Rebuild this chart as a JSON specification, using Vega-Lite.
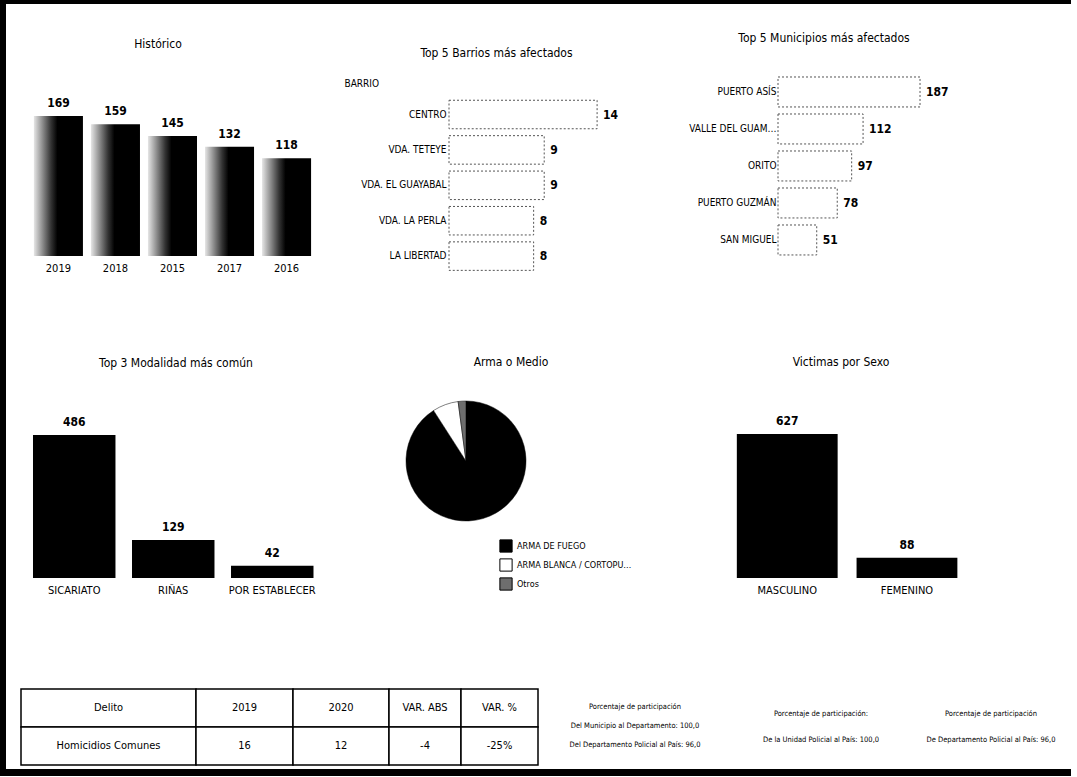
{
  "$schema": "https://vega.github.io/schema/vega-lite/v6.json",
  "padding": {"left": 0, "top": 0, "right": 6, "bottom": 0},
  "background": "white",
  "bounds": "full",
  "spacing": 0,
  "datasets": {
    "historico": [
      {"anio": "2019", "casos": 169},
      {"anio": "2018", "casos": 159},
      {"anio": "2015", "casos": 145},
      {"anio": "2017", "casos": 132},
      {"anio": "2016", "casos": 118}
    ],
    "barrios": [
      {"barrio": "CENTRO", "casos": 14},
      {"barrio": "VDA. TETEYE", "casos": 9},
      {"barrio": "VDA. EL GUAYABAL", "casos": 9},
      {"barrio": "VDA. LA PERLA", "casos": 8},
      {"barrio": "LA LIBERTAD", "casos": 8}
    ],
    "municipios": [
      {"municipio": "PUERTO ASÍS", "casos": 187},
      {"municipio": "VALLE DEL GUAMUEZ", "casos": 112},
      {"municipio": "ORITO", "casos": 97},
      {"municipio": "PUERTO GUZMÁN", "casos": 78},
      {"municipio": "SAN MIGUEL", "casos": 51}
    ],
    "modalidad": [
      {"modalidad": "SICARIATO", "casos": 486},
      {"modalidad": "RIÑAS", "casos": 129},
      {"modalidad": "POR ESTABLECER", "casos": 42}
    ],
    "arma": [
      {"arma": "ARMA DE FUEGO", "casos": 650},
      {"arma": "ARMA BLANCA / CORTOPUNZANTE", "casos": 50},
      {"arma": "Otros", "casos": 15}
    ],
    "sexo": [
      {"sexo": "MASCULINO", "casos": 627},
      {"sexo": "FEMENINO", "casos": 88}
    ],
    "tabla": [
      {"columna": "Delito", "fila": "Encabezado", "texto": "Delito"},
      {"columna": "Delito", "fila": "Valor", "texto": "Homicidios Comunes"},
      {"columna": "2019", "fila": "Encabezado", "texto": "2019"},
      {"columna": "2019", "fila": "Valor", "texto": "16"},
      {"columna": "2020", "fila": "Encabezado", "texto": "2020"},
      {"columna": "2020", "fila": "Valor", "texto": "12"},
      {"columna": "VAR. ABS", "fila": "Encabezado", "texto": "VAR. ABS"},
      {"columna": "VAR. ABS", "fila": "Valor", "texto": "-4"},
      {"columna": "VAR. %", "fila": "Encabezado", "texto": "VAR. %"},
      {"columna": "VAR. %", "fila": "Valor", "texto": "-25%"}
    ],
    "textos": [
      {"bloque": 1, "linea": 1, "texto": "Porcentaje de participación"},
      {"bloque": 1, "linea": 2, "texto": "Del Municipio al Departamento: 100,0"},
      {"bloque": 1, "linea": 3, "texto": "Del Departamento Policial al País: 96,0"},
      {"bloque": 2, "linea": 1, "texto": "Porcentaje de participación:"},
      {"bloque": 2, "linea": 2, "texto": "De la Unidad Policial al País: 100,0"},
      {"bloque": 3, "linea": 1, "texto": "Porcentaje de participación"},
      {"bloque": 3, "linea": 2, "texto": "De Departamento Policial al País: 96,0"}
    ],
    "marco": [{"borde": "marco"}],
    "vacio": []
  },
  "vconcat": [
    {"width": 1071, "height": 4, "data": {"name": "marco"}, "mark": {"type": "rect", "color": "black"}},
    {
      "bounds": "full",
      "spacing": 14,
      "hconcat": [
        {"width": 6, "height": 765, "data": {"name": "marco"}, "mark": {"type": "rect", "color": "black"}},
        {
          "bounds": "full",
          "spacing": 27,
          "vconcat": [
            {"width": 1, "height": 1, "data": {"name": "vacio"}, "mark": "rect"},
            {
              "bounds": "full",
              "spacing": 67,
              "vconcat": [
                {
                  "bounds": "flush",
                  "spacing": 128,
                  "hconcat": [
                    {
                      "width": 300,
                      "height": 183,
                      "title": {"text": "Histórico", "offset": 22, "dx": -13},
                      "data": {"name": "historico"},
                      "encoding": {
                        "x": {"field": "anio", "type": "nominal", "sort": null,
                          "scale": {"paddingInner": 0.14, "paddingOuter": 0.2, "align": 0.565},
                          "axis": {"title": null, "ticks": false, "domain": false, "labelAngle": 0, "labelPadding": 6, "labelFontSize": 11}},
                        "y": {"field": "casos", "type": "quantitative", "scale": {"domain": [0, 221], "nice": false}, "axis": null}
                      },
                      "layer": [
                        {"mark": {"type": "bar", "color": {"gradient": "linear", "x1": 0, "y1": 0, "x2": 1, "y2": 0,
                          "stops": [
                            {"offset": 0, "color": "#e6e6e6"},
                            {"offset": 0.15, "color": "#9a9a9a"},
                            {"offset": 0.35, "color": "#333333"},
                            {"offset": 0.48, "color": "#000000"},
                            {"offset": 1, "color": "#000000"}
                          ]}}},
                        {"mark": {"type": "text", "dy": -6, "baseline": "bottom", "fontSize": 12, "fontWeight": "bold"},
                          "encoding": {"text": {"field": "casos", "type": "quantitative"}}}
                      ]
                    },
                    {
                      "width": 201,
                      "height": 216,
                      "title": {"text": "Top 5 Barrios más afectados", "offset": 13, "dx": -53},
                      "data": {"name": "barrios"},
                      "encoding": {
                        "y": {"field": "barrio", "type": "nominal", "sort": null,
                          "scale": {"paddingInner": 0.195, "paddingOuter": 0.648, "align": 0.594},
                          "axis": {"title": "BARRIO", "titleAngle": 0, "titleAlign": "left", "titleBaseline": "middle",
                            "titleX": -105, "titleY": 10, "titleFontSize": 10, "titleFontWeight": "normal",
                            "ticks": false, "domain": false, "labelPadding": 3, "labelFontSize": 10}},
                        "x": {"field": "casos", "type": "quantitative", "scale": {"domain": [0, 19], "nice": false}, "axis": null}
                      },
                      "layer": [
                        {"mark": {"type": "bar", "fill": "white", "stroke": "#555555", "strokeWidth": 1, "strokeDash": [2, 2]}},
                        {"mark": {"type": "text", "align": "left", "dx": 6, "fontSize": 12, "fontWeight": "bold"},
                          "encoding": {"text": {"field": "casos", "type": "quantitative"}}}
                      ]
                    },
                    {
                      "width": 180,
                      "height": 216,
                      "title": {"text": "Top 5 Municipios más afectados", "offset": 28, "dx": -44},
                      "data": {"name": "municipios"},
                      "encoding": {
                        "y": {"field": "municipio", "type": "nominal", "sort": null,
                          "scale": {"paddingInner": 0.19, "paddingOuter": 0.514, "align": 0.105},
                          "axis": {"title": null, "ticks": false, "domain": false, "labelPadding": 2, "labelFontSize": 10, "labelLimit": 90}},
                        "x": {"field": "casos", "type": "quantitative", "scale": {"domain": [0, 237], "nice": false}, "axis": null}
                      },
                      "layer": [
                        {"mark": {"type": "bar", "fill": "white", "stroke": "#555555", "strokeWidth": 1, "strokeDash": [2, 2]}},
                        {"mark": {"type": "text", "align": "left", "dx": 6, "fontSize": 12, "fontWeight": "bold"},
                          "encoding": {"text": {"field": "casos", "type": "quantitative"}}}
                      ]
                    }
                  ]
                },
                {
                  "bounds": "full",
                  "spacing": 93,
                  "vconcat": [
                    {
                      "bounds": "flush",
                      "spacing": 20,
                      "hconcat": [
                        {
                          "width": 300,
                          "height": 177,
                          "title": {"text": "Top 3 Modalidad más común", "offset": 31, "dx": 5},
                          "data": {"name": "modalidad"},
                          "encoding": {
                            "x": {"field": "modalidad", "type": "nominal", "sort": null,
                              "scale": {"paddingInner": 0.167, "paddingOuter": 0.0985, "align": 0.615},
                              "axis": {"title": null, "ticks": false, "domain": false, "labelAngle": 0, "labelPadding": 6, "labelFontSize": 11}},
                            "y": {"field": "casos", "type": "quantitative", "scale": {"domain": [0, 601.6], "nice": false}, "axis": null}
                          },
                          "layer": [
                            {"mark": {"type": "bar", "color": "black"}},
                            {"mark": {"type": "text", "dy": -6, "baseline": "bottom", "fontSize": 12, "fontWeight": "bold"},
                              "encoding": {"text": {"field": "casos", "type": "quantitative"}}}
                          ]
                        },
                        {
                          "width": 250,
                          "height": 120,
                          "title": {"text": "Arma o Medio", "offset": 31, "dx": 45},
                          "data": {"name": "arma"},
                          "mark": {"type": "arc", "outerRadius": 60, "stroke": "black", "strokeWidth": 0.5},
                          "encoding": {
                            "theta": {"field": "casos", "type": "quantitative"},
                            "order": {"field": "casos", "type": "quantitative", "sort": "descending"},
                            "color": {"field": "arma", "type": "nominal",
                              "scale": {"domain": ["ARMA DE FUEGO", "ARMA BLANCA / CORTOPUNZANTE", "Otros"], "range": ["#000000", "#ffffff", "#6e6e6e"]},
                              "legend": {"title": null, "orient": "none", "legendX": 499, "legendY": 539,
                                "symbolType": "square", "symbolSize": 150, "symbolStrokeColor": "black", "symbolStrokeWidth": 1,
                                "labelFontSize": 9, "labelLimit": 118, "rowPadding": 1}}
                          }
                        },
                        {
                          "width": 460,
                          "height": 177,
                          "title": {"text": "Victimas por Sexo", "offset": 32},
                          "data": {"name": "sexo"},
                          "encoding": {
                            "x": {"field": "sexo", "type": "nominal", "sort": null,
                              "scale": {"paddingInner": 0.158, "paddingOuter": 1.356, "align": 0.5255},
                              "axis": {"title": null, "ticks": false, "domain": false, "labelAngle": 0, "labelPadding": 6, "labelFontSize": 11}},
                            "y": {"field": "casos", "type": "quantitative", "scale": {"domain": [0, 770.7], "nice": false}, "axis": null}
                          },
                          "layer": [
                            {"mark": {"type": "bar", "color": "black"}},
                            {"mark": {"type": "text", "dy": -6, "baseline": "bottom", "fontSize": 12, "fontWeight": "bold"},
                              "encoding": {"text": {"field": "casos", "type": "quantitative"}}}
                          ]
                        }
                      ]
                    },
                    {
                      "bounds": "full",
                      "spacing": 10,
                      "hconcat": [
                        {
                          "bounds": "flush",
                          "spacing": 0,
                          "hconcat": [
                            {"width": 175, "height": 76, "data": {"name": "tabla"},
                              "transform": [{"filter": "datum.columna === 'Delito'"}],
                              "encoding": {"y": {"field": "fila", "type": "nominal", "sort": null, "scale": {"paddingInner": 0, "paddingOuter": 0}, "axis": null}},
                              "layer": [
                                {"mark": {"type": "rect", "fill": "white", "stroke": "black", "strokeWidth": 1.5}},
                                {"mark": {"type": "text", "fontSize": 11}, "encoding": {"text": {"field": "texto", "type": "nominal"}}}
                              ]},
                            {"width": 97, "height": 76, "data": {"name": "tabla"},
                              "transform": [{"filter": "datum.columna === '2019'"}],
                              "encoding": {"y": {"field": "fila", "type": "nominal", "sort": null, "scale": {"paddingInner": 0, "paddingOuter": 0}, "axis": null}},
                              "layer": [
                                {"mark": {"type": "rect", "fill": "white", "stroke": "black", "strokeWidth": 1.5}},
                                {"mark": {"type": "text", "fontSize": 11}, "encoding": {"text": {"field": "texto", "type": "nominal"}}}
                              ]},
                            {"width": 96, "height": 76, "data": {"name": "tabla"},
                              "transform": [{"filter": "datum.columna === '2020'"}],
                              "encoding": {"y": {"field": "fila", "type": "nominal", "sort": null, "scale": {"paddingInner": 0, "paddingOuter": 0}, "axis": null}},
                              "layer": [
                                {"mark": {"type": "rect", "fill": "white", "stroke": "black", "strokeWidth": 1.5}},
                                {"mark": {"type": "text", "fontSize": 11}, "encoding": {"text": {"field": "texto", "type": "nominal"}}}
                              ]},
                            {"width": 72, "height": 76, "data": {"name": "tabla"},
                              "transform": [{"filter": "datum.columna === 'VAR. ABS'"}],
                              "encoding": {"y": {"field": "fila", "type": "nominal", "sort": null, "scale": {"paddingInner": 0, "paddingOuter": 0}, "axis": null}},
                              "layer": [
                                {"mark": {"type": "rect", "fill": "white", "stroke": "black", "strokeWidth": 1.5}},
                                {"mark": {"type": "text", "fontSize": 11}, "encoding": {"text": {"field": "texto", "type": "nominal"}}}
                              ]},
                            {"width": 77, "height": 76, "data": {"name": "tabla"},
                              "transform": [{"filter": "datum.columna === 'VAR. %'"}],
                              "encoding": {"y": {"field": "fila", "type": "nominal", "sort": null, "scale": {"paddingInner": 0, "paddingOuter": 0}, "axis": null}},
                              "layer": [
                                {"mark": {"type": "rect", "fill": "white", "stroke": "black", "strokeWidth": 1.5}},
                                {"mark": {"type": "text", "fontSize": 11}, "encoding": {"text": {"field": "texto", "type": "nominal"}}}
                              ]}
                          ]
                        },
                        {"width": 172, "height": 76, "data": {"name": "textos"},
                          "transform": [{"filter": "datum.bloque === 1"}],
                          "mark": {"type": "text", "fontSize": 7.5},
                          "encoding": {
                            "y": {"field": "linea", "type": "ordinal", "scale": {"padding": 1.111, "align": 0.4725}, "axis": null},
                            "text": {"field": "texto", "type": "nominal"}
                          }},
                        {"width": 180, "height": 76, "data": {"name": "textos"},
                          "transform": [{"filter": "datum.bloque === 2"}],
                          "mark": {"type": "text", "fontSize": 7.5},
                          "encoding": {
                            "y": {"field": "linea", "type": "ordinal", "scale": {"padding": 1.611, "align": 0.5}, "axis": null},
                            "text": {"field": "texto", "type": "nominal"}
                          }},
                        {"width": 140, "height": 76, "data": {"name": "textos"},
                          "transform": [{"filter": "datum.bloque === 3"}],
                          "mark": {"type": "text", "fontSize": 7.5},
                          "encoding": {
                            "y": {"field": "linea", "type": "ordinal", "scale": {"padding": 1.611, "align": 0.5}, "axis": null},
                            "text": {"field": "texto", "type": "nominal"}
                          }}
                      ]
                    }
                  ]
                }
              ]
            }
          ]
        }
      ]
    },
    {"width": 1071, "height": 7, "data": {"name": "marco"}, "mark": {"type": "rect", "color": "black"}}
  ],
  "config": {
    "font": "DejaVu Sans Condensed, Liberation Sans, sans-serif",
    "view": {"stroke": null},
    "title": {"fontSize": 12, "fontWeight": "normal", "color": "black", "font": "DejaVu Sans Condensed, Liberation Sans, sans-serif"},
    "axis": {"labelColor": "black", "titleColor": "black", "labelFont": "DejaVu Sans Condensed, Liberation Sans, sans-serif", "titleFont": "DejaVu Sans Condensed, Liberation Sans, sans-serif"},
    "legend": {"labelColor": "black", "labelFont": "DejaVu Sans Condensed, Liberation Sans, sans-serif"},
    "text": {"color": "black", "font": "DejaVu Sans Condensed, Liberation Sans, sans-serif"}
  }
}
